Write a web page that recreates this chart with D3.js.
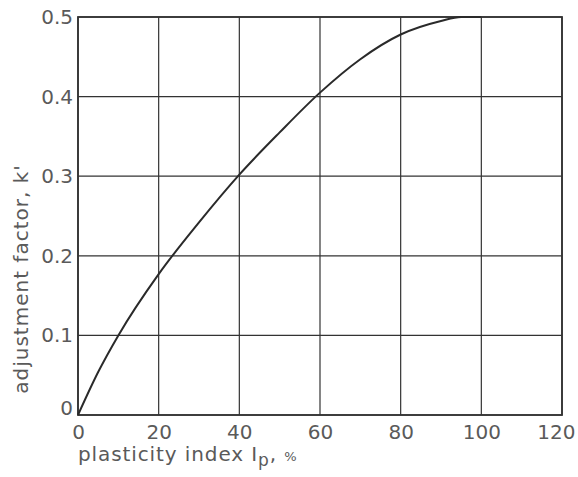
<!DOCTYPE html>
<html>
<head>
<meta charset="utf-8">
<script src="https://cdn.jsdelivr.net/npm/d3@7"></script>
<style>
  html, body { margin: 0; padding: 0; background: #fff; }
  svg { display: block; }
  text { font-family: "DejaVu Sans", "Liberation Sans", sans-serif; fill: #5a5a5a; }
</style>
</head>
<body>
<svg id="chart" width="578" height="477"></svg>
<script>
// Plasticity index (%) and adjustment factor k'
const plasticityIndex = [0, 5, 10, 20, 30, 40, 50, 60, 70, 80, 90, 95, 100];
const adjustmentFactor = [0, 0.054, 0.1, 0.177, 0.242, 0.302, 0.355, 0.405, 0.447, 0.478, 0.495, 0.5, 0.5];

const xTicks = [0, 20, 40, 60, 80, 100, 120];
const yTicks = [0, 0.1, 0.2, 0.3, 0.4, 0.5];

const svg = d3.select("#chart");
const m = { left: 78, right: 16, top: 17, bottom: 62 };
const W = 578, H = 477;

const x = d3.scaleLinear().domain([0, 120]).range([m.left, W - m.right]);
const y = d3.scaleLinear().domain([0, 0.5]).range([H - m.bottom, m.top]);

const ink = "#333";
const font = "'DejaVu Sans', 'Liberation Sans', sans-serif";

// grid
const grid = svg.append("g");
grid.selectAll("line.vx").data(xTicks).join("line")
  .attr("x1", d => x(d)).attr("x2", d => x(d))
  .attr("y1", y(0)).attr("y2", y(0.5))
  .attr("stroke", ink).attr("stroke-width", 1.2);
grid.selectAll("line.hy").data(yTicks).join("line")
  .attr("x1", x(0)).attr("x2", x(120))
  .attr("y1", d => y(d)).attr("y2", d => y(d))
  .attr("stroke", ink).attr("stroke-width", 1.2);

// frame
svg.append("rect")
  .attr("x", x(0)).attr("y", y(0.5))
  .attr("width", x(120) - x(0)).attr("height", y(0) - y(0.5))
  .attr("fill", "none").attr("stroke", ink).attr("stroke-width", 1.8);

// axes (labels only, the grid carries the ticks)
const xAxis = d3.axisBottom(x).tickValues(xTicks).tickSize(0).tickPadding(10)
  .tickFormat(d3.format("d"));
const xg = svg.append("g").attr("transform", `translate(0,${y(0)})`).call(xAxis)
  .call(g => g.select(".domain").remove());
xg.selectAll("text").style("font-size", "20px").attr("fill", "#5a5a5a")
  .style("font-family", font);
// last label is pulled in so it stays inside the page
xg.selectAll(".tick").filter(d => d === 120).select("text")
  .attr("text-anchor", "end").attr("x", 13);

const yAxis = d3.axisLeft(y).tickValues(yTicks).tickSize(0).tickPadding(5)
  .tickFormat(d => d === 0 ? "0" : d3.format(".1f")(d));
const yg = svg.append("g").attr("transform", `translate(${x(0)},0)`).call(yAxis)
  .call(g => g.select(".domain").remove());
yg.selectAll("text").style("font-size", "20px").attr("fill", "#5a5a5a")
  .style("font-family", font);
yg.selectAll(".tick").filter(d => d === 0).select("text").attr("y", -7);

// curve
const line = d3.line()
  .x((d, i) => x(plasticityIndex[i]))
  .y(d => y(d))
  .curve(d3.curveMonotoneX);
svg.append("path")
  .datum(adjustmentFactor)
  .attr("d", line)
  .attr("fill", "none")
  .attr("stroke", "#2a2a2a")
  .attr("stroke-width", 2);

// axis titles
const xt = svg.append("text")
  .attr("x", 78).attr("y", 461)
  .style("font-size", "20px")
  .style("letter-spacing", "0.9px");
xt.append("tspan").text("plasticity index I");
xt.append("tspan").attr("dy", 5).style("font-size", "17px").text("p");
xt.append("tspan").attr("dy", -5).text(", ");
xt.append("tspan").style("font-size", "13px").text("%");

svg.append("text")
  .attr("transform", "translate(28,279) rotate(-90)")
  .attr("text-anchor", "middle")
  .style("font-size", "20px")
  .style("letter-spacing", "1px")
  .text("adjustment factor, k'");
</script>
</body>
</html>
